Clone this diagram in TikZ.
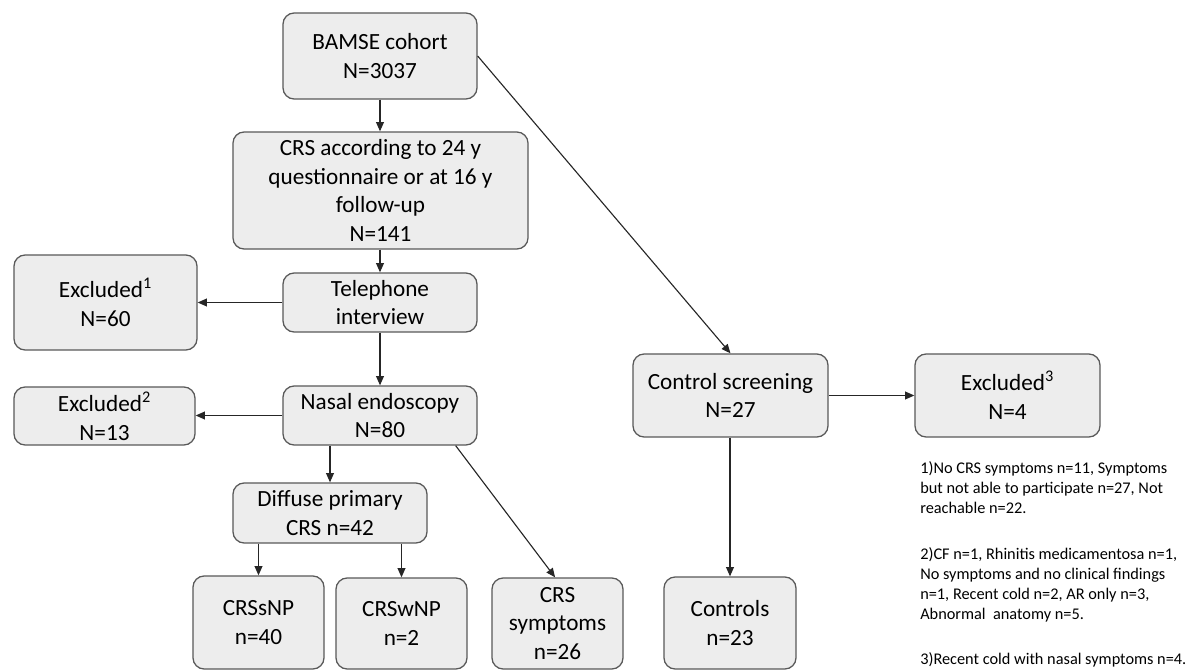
\documentclass[tikz,border=0pt]{standalone}
\usepackage{fontspec}
\setmainfont{Carlito}
\usepackage{tikz}
\usetikzlibrary{positioning,arrows.meta}
\definecolor{boxfill}{RGB}{237,237,237}
\definecolor{boxline}{RGB}{89,89,89}
\definecolor{arrowgray}{RGB}{38,38,38}

\begin{document}
\begin{tikzpicture}[x=0.025cm, y=-0.025cm,
  box/.style={draw=boxline, line width=0.9pt, fill=boxfill, rounded corners=0.28cm,
    align=center, inner sep=0pt, font=\fontsize{16.5}{20.5}\selectfont},
  arr/.style={draw=arrowgray, line width=0.8pt, -{Triangle[length=6.5pt,width=5.5pt]}},
  note/.style={anchor=north west, align=left, inner sep=0pt, font=\fontsize{11.6}{14.2}\selectfont}]
  \useasboundingbox (0,0) rectangle (1192,670);
  % main branch
  \node[box, minimum width=4.85cm, minimum height=2.15cm] (bamse) at (380,56) {BAMSE cohort\\N=3037};
  \node[box, minimum width=7.375cm, minimum height=2.925cm] (crs) at (380.5,190.5) {CRS according to 24 y\\questionnaire or at 16 y\\follow-up\\N=141};
  \node[box, minimum width=4.85cm, minimum height=1.475cm] (phone) at (380,302.5) {Telephone\\interview};
  \node[box, minimum width=4.575cm, minimum height=2.375cm] (excl1) at (105.5,302.5) {Excluded\textsuperscript{1}\\N=60};
  \node[box, minimum width=4.85cm, minimum height=1.475cm] (endo) at (380,415.5) {Nasal endoscopy\\N=80};
  \node[box, minimum width=4.525cm, minimum height=1.45cm] (excl2) at (104.5,416) {Excluded\textsuperscript{2}\\N=13};
  \node[box, minimum width=4.85cm, minimum height=1.5cm] (diffuse) at (330,513) {Diffuse primary\\CRS n=42};
  \node[box, minimum width=3.275cm, minimum height=2.325cm] (sinp) at (258.5,622.5) {CRSsNP\\n=40};
  \node[box, minimum width=3.275cm, minimum height=2.275cm] (winp) at (401.5,623.5) {CRSwNP\\n=2};
  \node[box, minimum width=3.275cm, minimum height=2.275cm] (symp) at (557.5,623.5) {CRS\\symptoms\\n=26};
  % control branch
  \node[box, minimum width=4.875cm, minimum height=2.075cm] (screen) at (730.5,395.5) {Control screening\\N=27};
  \node[box, minimum width=4.625cm, minimum height=2.075cm] (excl3) at (1007.5,395.5) {Excluded\textsuperscript{3}\\N=4};
  \node[box, minimum width=3.3cm, minimum height=2.3cm] (ctrl) at (730,623) {Controls\\n=23};

  \draw[arr] (bamse.south) -- (bamse.south |- crs.north);
  \draw[arr] (crs.south -| phone.north) -- (phone.north);
  \draw[arr] (phone.south) -- (endo.north);
  \draw[arr] (phone.west) -- (phone.west -| excl1.east);
  \draw[arr] (endo.west) -- (endo.west -| excl2.east);
  \draw[arr] (endo.south -| diffuse.north) -- (diffuse.north);
  \draw[arr] (diffuse.south -| sinp.north) -- (sinp.north);
  \draw[arr] (diffuse.south -| winp.north) -- (winp.north);
  \draw[arr] ([xshift=-0.55cm]endo.south east) -- ([xshift=-0.06cm]symp.north);
  \draw[arr] (bamse.east) -- (screen.north);
  \draw[arr] (screen.east) -- (screen.east -| excl3.west);
  \draw[arr] (screen.south -| ctrl.north) -- (ctrl.north);

  % footnotes
  \node[note] (note1) at (920,461.5) {1)No CRS symptoms n=11, Symptoms\\but not able to participate n=27, Not\\reachable n=22.};
  \node[note] (note2) at (920,547.5) {2)CF n=1, Rhinitis medicamentosa n=1,\\No symptoms and no clinical findings\\n=1, Recent cold n=2, AR only n=3,\\Abnormal\ \ anatomy n=5.};
  \node[note] (note3) at (920,652.5) {3)Recent cold with nasal symptoms n=4.};
\end{tikzpicture}
\end{document}
